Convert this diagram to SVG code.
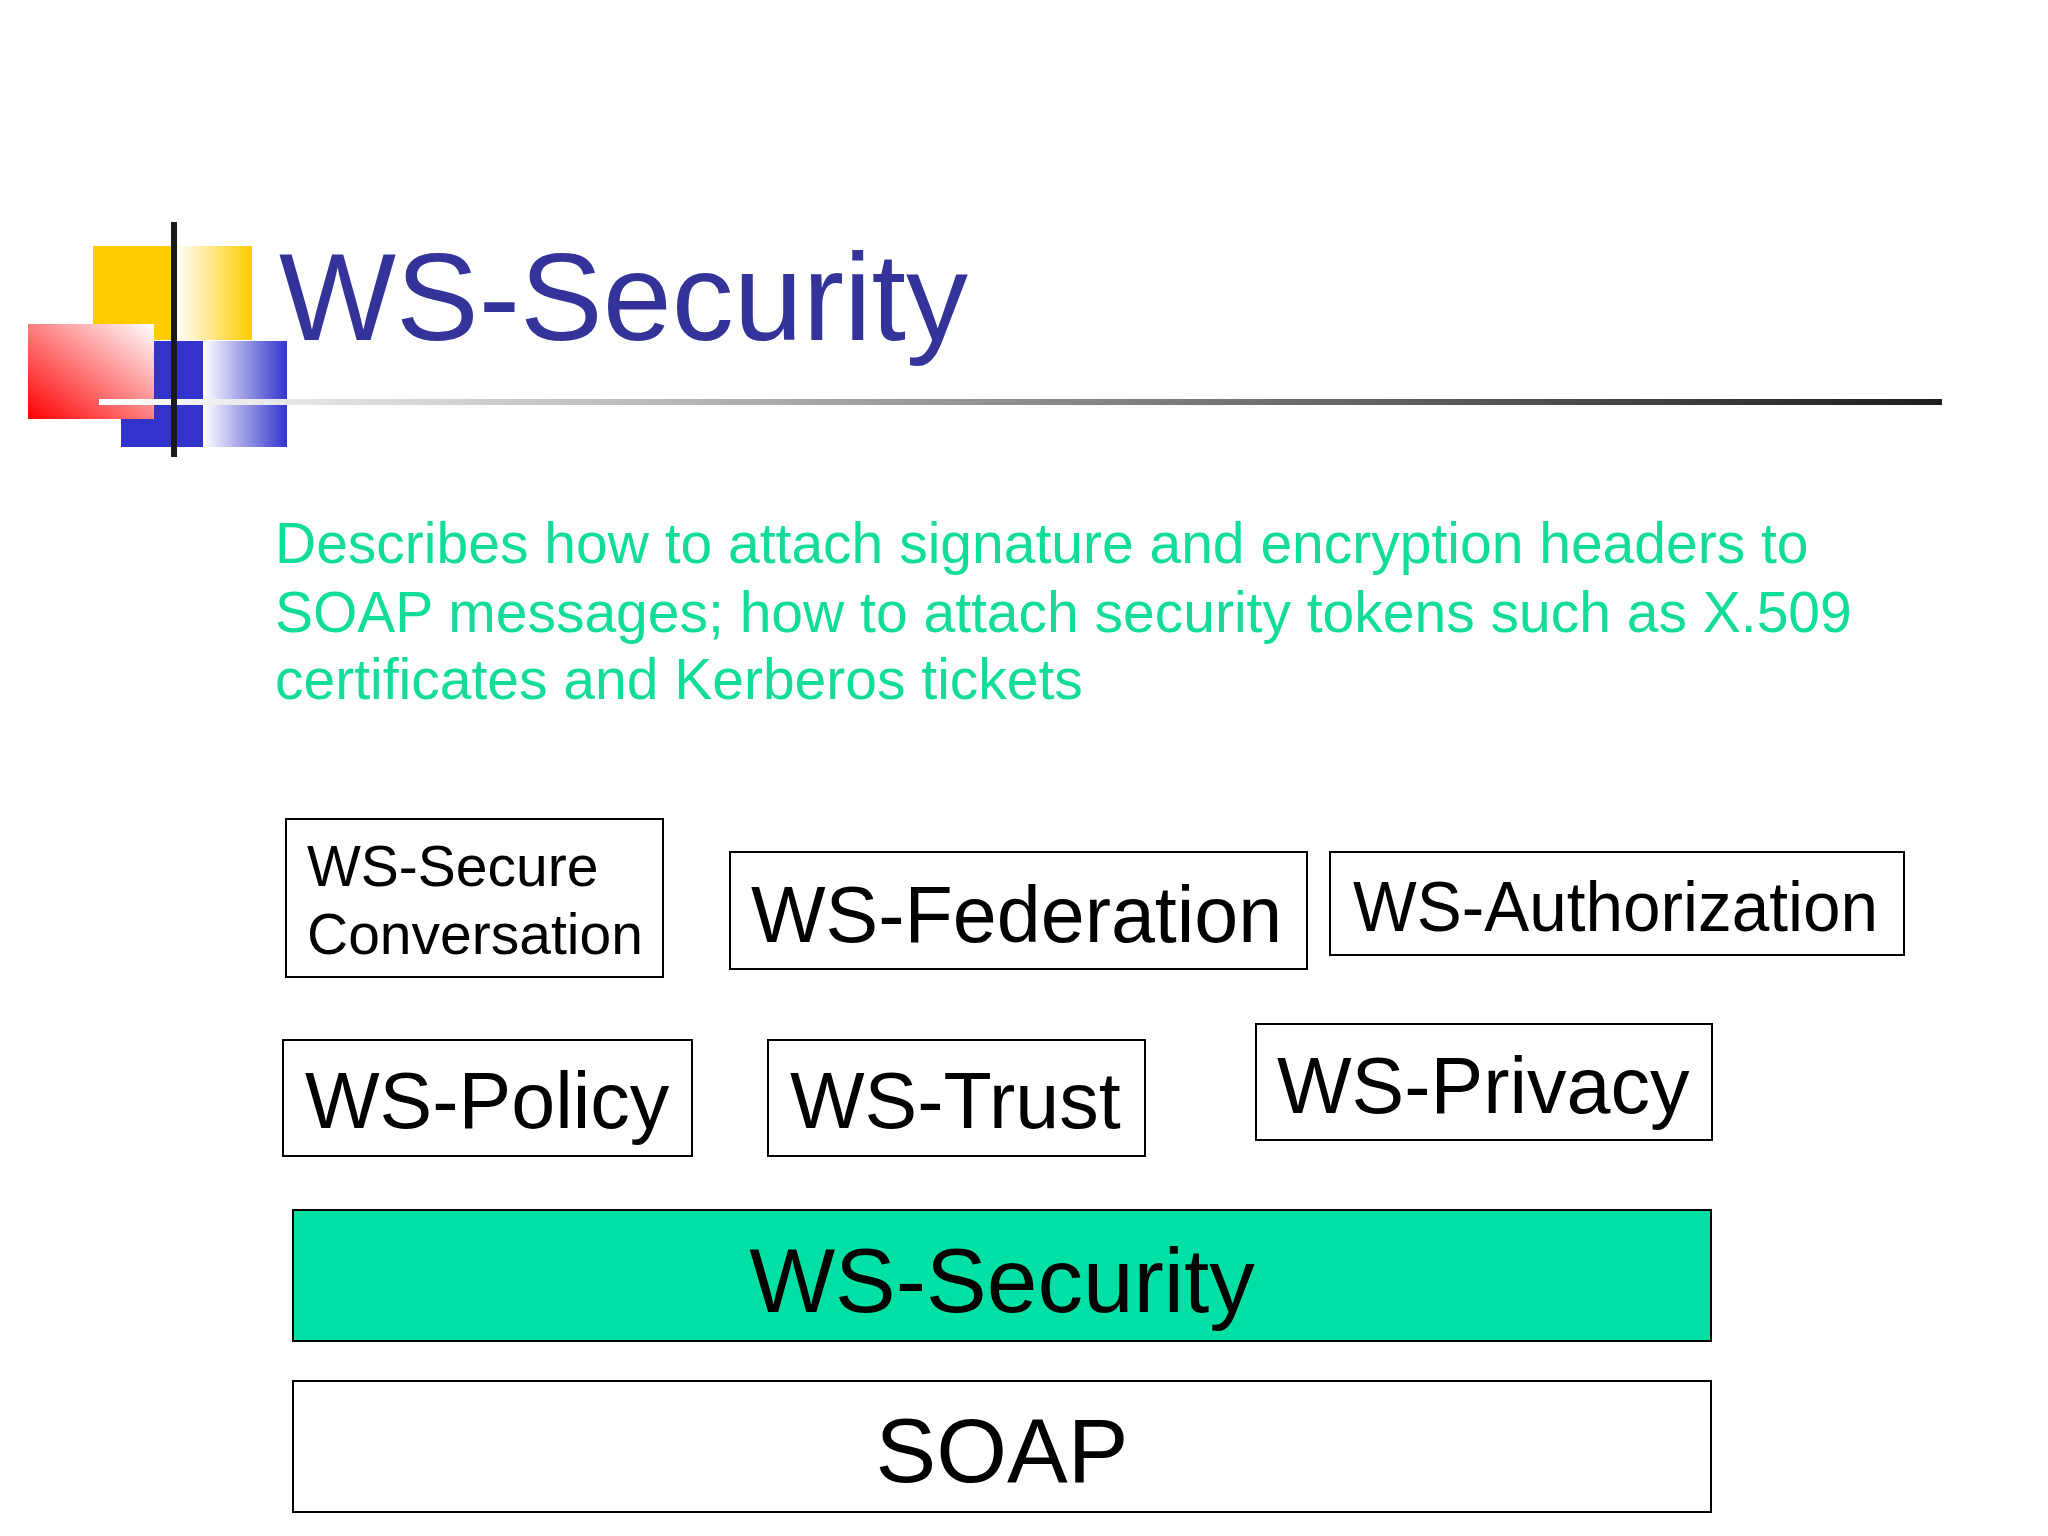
<svg xmlns="http://www.w3.org/2000/svg" width="2048" height="1536" viewBox="0 0 2048 1536">
<defs>
<linearGradient id="gYel" x1="0" y1="0" x2="1" y2="0"><stop offset="0" stop-color="#FFFFFF"/><stop offset="1" stop-color="#FFCC00"/></linearGradient>
<linearGradient id="gBlue" x1="0" y1="0" x2="1" y2="0"><stop offset="0" stop-color="#FFFFFF"/><stop offset="1" stop-color="#3333CC"/></linearGradient>
<linearGradient id="gRed" x1="0" y1="1" x2="1" y2="0"><stop offset="0" stop-color="#FF0000"/><stop offset="1" stop-color="#FFFFFF"/></linearGradient>
<linearGradient id="gLine" x1="0" y1="0" x2="1" y2="0"><stop offset="0" stop-color="#FFFFFF"/><stop offset="0.1" stop-color="#E6E6E6"/><stop offset="1" stop-color="#1E1E1E"/></linearGradient>
<style>
.box{fill:#FFFFFF;stroke:#000000;stroke-width:2}
.lbl{font-family:"Liberation Sans",Arial,sans-serif;fill:#000000}
.para{font-family:"Liberation Sans",Arial,sans-serif;fill:#11DD99;font-size:57px}
</style>
</defs>
<rect width="2048" height="1536" fill="#FFFFFF"/>
<g id="logo">
<rect x="93" y="246" width="159" height="94" fill="#FFCC00"/>
<rect x="176" y="246" width="76" height="94" fill="url(#gYel)"/>
<rect x="121" y="341" width="166" height="106" fill="#3333CC"/>
<rect x="203" y="341" width="84" height="106" fill="url(#gBlue)"/>
<rect x="28" y="324" width="126" height="95" fill="url(#gRed)"/>
<rect x="99" y="399" width="1843" height="6" fill="url(#gLine)"/>
<rect x="171" y="222" width="6" height="235" fill="#1A1A1A"/>
</g>
<g id="title">
<text x="279" y="340" font-family="'Liberation Sans',Arial,sans-serif" font-size="124" fill="#333399">WS-Security</text>
</g>
<g id="description">
<text class="para" x="275" y="563">Describes how to attach signature and encryption headers to</text>
<text class="para" x="275" y="632">SOAP messages; how to attach security tokens such as X.509</text>
<text class="para" x="275" y="699">certificates and Kerberos tickets</text>
</g>
<g id="node-secure-conversation">
<rect class="box" x="286" y="819" width="377" height="158"/>
<text class="lbl" x="307" y="886" font-size="57">WS-Secure</text>
<text class="lbl" x="307" y="954" font-size="57">Conversation</text>
</g>
<g id="node-federation">
<rect class="box" x="730" y="852" width="577" height="117"/>
<text class="lbl" x="751" y="942" font-size="79">WS-Federation</text>
</g>
<g id="node-authorization">
<rect class="box" x="1330" y="852" width="574" height="103"/>
<text class="lbl" x="1353" y="931" font-size="70" textLength="525" lengthAdjust="spacingAndGlyphs">WS-Authorization</text>
</g>
<g id="node-policy">
<rect class="box" x="283" y="1040" width="409" height="116"/>
<text class="lbl" x="305" y="1128" font-size="79">WS-Policy</text>
</g>
<g id="node-trust">
<rect class="box" x="768" y="1040" width="377" height="116"/>
<text class="lbl" x="790" y="1128" font-size="79">WS-Trust</text>
</g>
<g id="node-privacy">
<rect class="box" x="1256" y="1024" width="456" height="116"/>
<text class="lbl" x="1277" y="1113" font-size="79">WS-Privacy</text>
</g>
<g id="node-ws-security">
<rect x="293" y="1210" width="1418" height="131" fill="#00E0A4" stroke="#000000" stroke-width="2"/>
<text class="lbl" x="1002" y="1312" font-size="91" text-anchor="middle">WS-Security</text>
</g>
<g id="node-soap">
<rect class="box" x="293" y="1381" width="1418" height="131"/>
<text class="lbl" x="1002" y="1482" font-size="91" text-anchor="middle">SOAP</text>
</g>
<g id="connectors"></g>
</svg>
